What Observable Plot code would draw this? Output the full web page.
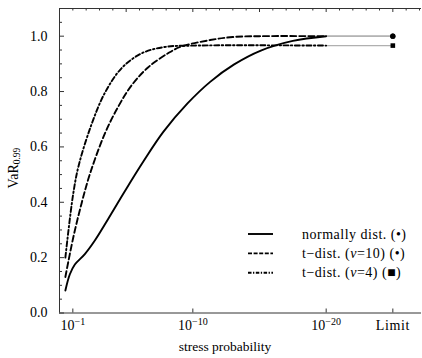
<!DOCTYPE html>
<html><head><meta charset="utf-8">
<script src="https://cdn.jsdelivr.net/npm/d3@7"></script>
<script src="https://cdn.jsdelivr.net/npm/@observablehq/plot@0.6"></script>
<style>body{margin:0;background:#fff}#chart{position:relative;width:422px;height:358px}</style>
</head><body><div id="chart"></div>
<script>
// stress probability given as exponent n in 10^-n
const normalExp = [0.44, 0.77, 1.15, 1.9, 2.65, 3.65, 4.9, 6.3, 7.8, 9.6, 11.3, 13.1, 15.1, 17.5, 20];
const normalVaR = [0.081, 0.139, 0.175, 0.213, 0.262, 0.34, 0.44, 0.548, 0.655, 0.757, 0.835, 0.898, 0.948, 0.983, 1.0];
const t10Exp = [0.44, 1.02, 1.65, 2.3, 3.4, 4.4, 5.4, 6.66, 8.2, 9.1, 11.3, 13, 15, 20];
const t10VaR = [0.13, 0.27, 0.395, 0.505, 0.648, 0.745, 0.822, 0.888, 0.94, 0.962, 0.986, 0.997, 1.0, 1.0];
const t4Exp = [0.44, 1.02, 1.45, 2.4, 3.4, 4.65, 6.16, 7.9, 10, 20];
const t4VaR = [0.2, 0.428, 0.535, 0.681, 0.795, 0.884, 0.938, 0.961, 0.966, 0.966];
const limitExp = 25;
const limitStart = 20;
const limitVaR = [1.0, 1.0, 0.966];
const limitSymbols = ["circle", "circle", "square"];
const seriesNames = ["normally dist. (•)", "t−dist. (ν=10) (•)", "t−dist. (ν=4) (■)"];
const xTicks = [1, 10, 20, 25];
const xTickLabels = ["10^−1", "10^−10", "10^−20", "Limit"];
const yMajor = [0, 0.2, 0.4, 0.6, 0.8, 1.0];
const yMinor = [0.05,0.1,0.15,0.25,0.3,0.35,0.45,0.5,0.55,0.65,0.7,0.75,0.85,0.9,0.95,1.05];
const topMinor = [1,2,3,4,6,7,8,9,11,12,13,14,16,17,18,19,21,22,23,24,26,27];
const topMajor = [5,10,15,20,25];

const dashes = [null, "6,3", "5,2.5,1.5,2.5"];
const legendDashes = [null, "4,1.6", "3.5,1.5,1.3,1.5"];
const exps = [normalExp, t10Exp, t4Exp];
const vals = [normalVaR, t10VaR, t4VaR];
const curves = exps.map((ex, k) => ex.map((e, i) => ({e, v: vals[k][i]})));
const connectors = limitVaR.map((v, k) => [{e: limitStart, v}, {e: limitExp, v}]);
const limits = limitVaR.map((v, k) => ({e: limitExp, v, s: limitSymbols[k]}));

const W = 422, H = 358, mL = 59, mR = 1, mT = 8, mB = 45.5;
const fw = W - mL - mR, fh = H - mT - mB;
const axisColor = "#333";
const serif = "'Liberation Serif', 'DejaVu Serif', serif";

const svg = Plot.plot({
  width: W, height: H, marginLeft: mL, marginRight: mR, marginTop: mT, marginBottom: mB,
  style: {fontFamily: serif, fontSize: "13px", color: "#000", background: "#fff"},
  x: {type: "linear", domain: [0, 27.15], label: null},
  y: {domain: [0, 1.1], label: null},
  marks: [
    ...connectors.map(c => Plot.line(c, {x: "e", y: "v", stroke: "#b0b0b0", strokeWidth: 1.2})),
    ...curves.map((c, k) => Plot.line(c, {x: "e", y: "v", stroke: "#000", strokeWidth: 1.9, strokeDasharray: dashes[k], curve: "catmull-rom"})),
    Plot.dot(limits, {x: "e", y: "v", symbol: "s", fill: "#000", r: 2.6}),
    Plot.ruleX([0], {stroke: axisColor}),
    Plot.ruleY([0], {stroke: axisColor}),
    Plot.ruleY([1.1], {stroke: axisColor}),
    Plot.tickY(yMajor, {y: d => d, insetRight: fw - 5, stroke: axisColor}),
    Plot.tickY(yMinor, {y: d => d, insetRight: fw - 3, stroke: axisColor}),
    Plot.tickX(xTicks, {x: d => d, insetTop: fh - 4, stroke: axisColor}),
    Plot.tickX(topMajor, {x: d => d, insetBottom: fh - 4, stroke: axisColor}),
    Plot.tickX(topMinor, {x: d => d, insetBottom: fh - 2.5, stroke: axisColor}),
    Plot.axisY({ticks: yMajor, tickSize: 0, tickPadding: 12, tickFormat: d3.format(".1f"), label: null, fill: "#000"}),
    Plot.axisX({ticks: xTicks, tickSize: 0, tickPadding: 7, tickFormat: d => xTickLabels[xTicks.indexOf(d)], label: null, fill: "#000"})
  ]
});

const s = d3.select(svg);
s.selectAll("g[aria-label$='tick label']").attr("font-size", null).attr("font-family", null)
  .style("font-size", "14px").style("font-family", serif);
// superscripts in x tick labels
s.selectAll("g[aria-label='x-axis tick label'] text").each(function() {
  const t = d3.select(this);
  const txt = t.text();
  if (txt.includes("^")) {
    const [base, sup] = txt.split("^");
    t.text("");
    t.append("tspan").text(base);
    t.append("tspan").attr("dy", "-0.45em").style("font-size", "10px").text(sup);
  } else {
    t.attr("letter-spacing", "0.6px");
  }
});
// y label
const yl = s.append("text").attr("transform", "translate(15,168) rotate(-90)")
  .attr("text-anchor", "middle").attr("dominant-baseline", "middle")
  .style("font-family", serif).style("font-size", "14px").attr("fill", "#000");
yl.append("tspan").text("VaR");
yl.append("tspan").style("font-size", "9.5px").attr("dy", "0.35em").text("0.99");
// x label
s.append("text").attr("x", 225).attr("y", 351).attr("text-anchor", "middle")
  .style("font-family", serif).style("font-size", "13.5px").attr("fill", "#000")
  .text("stress probability");
// legend
const lg = s.append("g").style("font-family", serif).style("font-size", "14px").attr("text-anchor", "start");
seriesNames.forEach((name, k) => {
  const y = 234 + k * 19.4;
  lg.append("line").attr("x1", 248).attr("x2", 273).attr("y1", y).attr("y2", y)
    .attr("stroke", "#000").attr("stroke-width", 1.9).attr("stroke-dasharray", legendDashes[k]);
  const t = lg.append("text").attr("x", 302).attr("y", y).attr("dy", "0.33em")
    .attr("text-anchor", "start").attr("letter-spacing", "0.5px").attr("fill", "#000");
  if (name.includes("ν")) {
    const [a, b] = name.split("ν");
    t.append("tspan").text(a);
    t.append("tspan").attr("font-style", "italic").text("ν");
    t.append("tspan").text(b);
  } else t.text(name);
});
document.getElementById("chart").append(svg);
</script></body></html>
